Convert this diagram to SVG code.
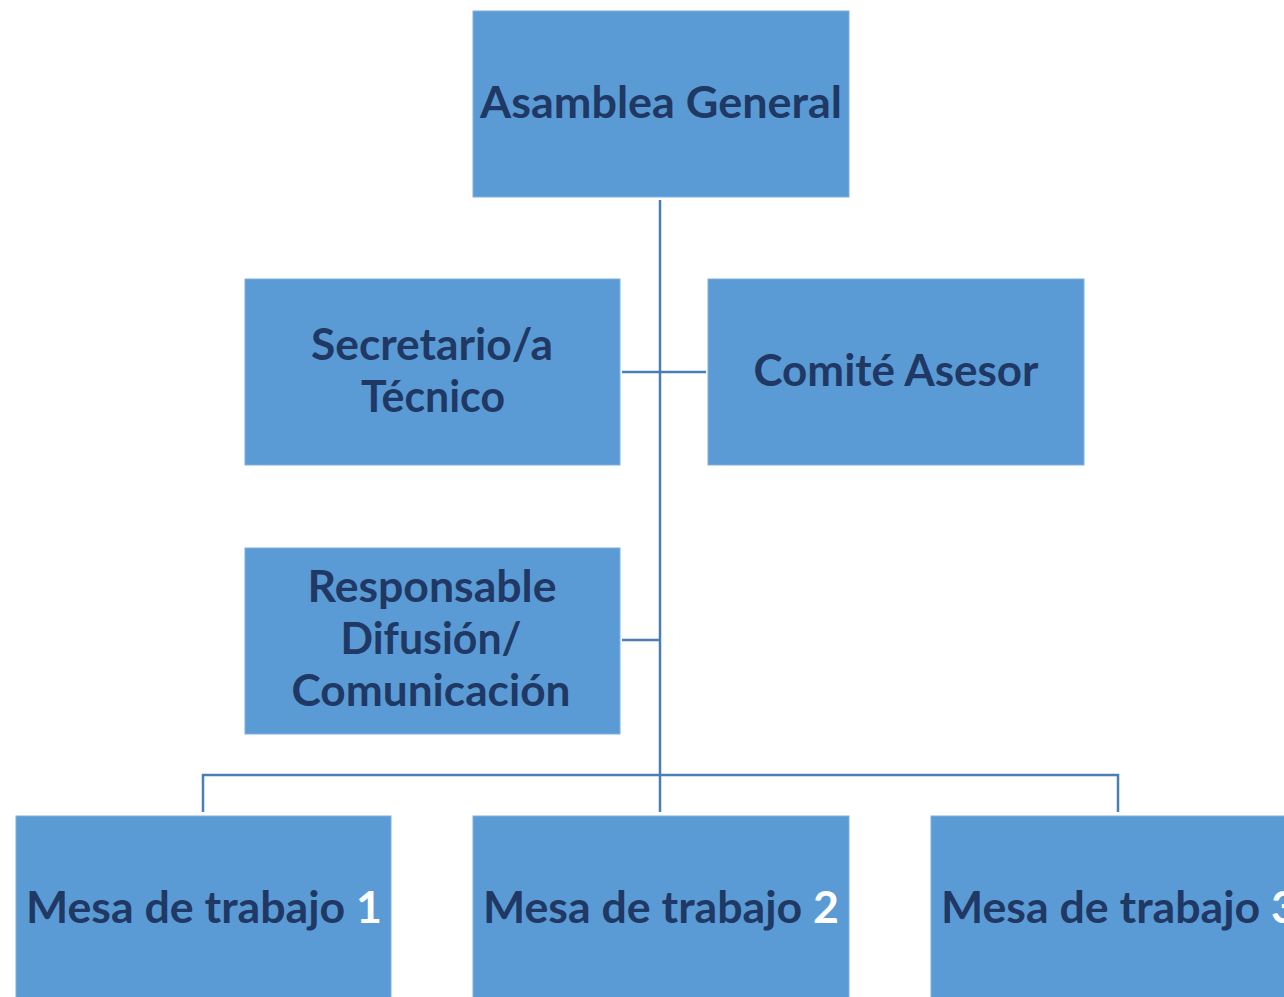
<svg xmlns="http://www.w3.org/2000/svg" width="1284" height="997" viewBox="0 0 1284 997">
<style>
.box{fill:#5B9BD5;stroke:#7FB0DF;stroke-width:1}
.t{font-family:Lato,"Open Sans",sans-serif;font-weight:bold;font-size:43px;fill:#1F3864;text-anchor:middle}
.w{fill:#FFFFFF}
.c{stroke:#4A7EB5;stroke-width:2.5;fill:none}
</style>
<rect width="1284" height="997" fill="#FFFFFF"/>
<g id="connectors">
<path class="c" d="M660,200 V812"/>
<path class="c" d="M622,372 H706"/>
<path class="c" d="M622,640 H660"/>
<path class="c" d="M203,812 V775 H1118 V812"/>
</g>
<g id="asamblea">
<rect class="box" x="473" y="11" width="376" height="186"/>
<text class="t" x="661" y="118" textLength="362" lengthAdjust="spacingAndGlyphs">Asamblea General</text>
</g>
<g id="secretario">
<rect class="box" x="245" y="279" width="375" height="186"/>
<text class="t" x="432" y="360" textLength="242" lengthAdjust="spacingAndGlyphs">Secretario/a</text>
<text class="t" x="433" y="412" textLength="144" lengthAdjust="spacingAndGlyphs">Técnico</text>
</g>
<g id="comite">
<rect class="box" x="708" y="279" width="376" height="186"/>
<text class="t" x="896" y="386" textLength="285" lengthAdjust="spacingAndGlyphs">Comité Asesor</text>
</g>
<g id="responsable">
<rect class="box" x="245" y="548" width="375" height="186"/>
<text class="t" x="432" y="602" textLength="249" lengthAdjust="spacingAndGlyphs">Responsable</text>
<text class="t" x="431" y="654" textLength="181" lengthAdjust="spacingAndGlyphs">Difusión/</text>
<text class="t" x="431" y="706" textLength="279" lengthAdjust="spacingAndGlyphs">Comunicación</text>
</g>
<g id="mesa1">
<rect class="box" x="16" y="816" width="375" height="190"/>
<text class="t" x="204" y="923" textLength="356" lengthAdjust="spacingAndGlyphs">Mesa de trabajo <tspan class="w">1</tspan></text>
</g>
<g id="mesa2">
<rect class="box" x="473" y="816" width="376" height="190"/>
<text class="t" x="661" y="923" textLength="356" lengthAdjust="spacingAndGlyphs">Mesa de trabajo <tspan class="w">2</tspan></text>
</g>
<g id="mesa3">
<rect class="box" x="931" y="816" width="376" height="190"/>
<text class="t" x="1119" y="923" textLength="356" lengthAdjust="spacingAndGlyphs">Mesa de trabajo <tspan class="w">3</tspan></text>
</g>
</svg>
